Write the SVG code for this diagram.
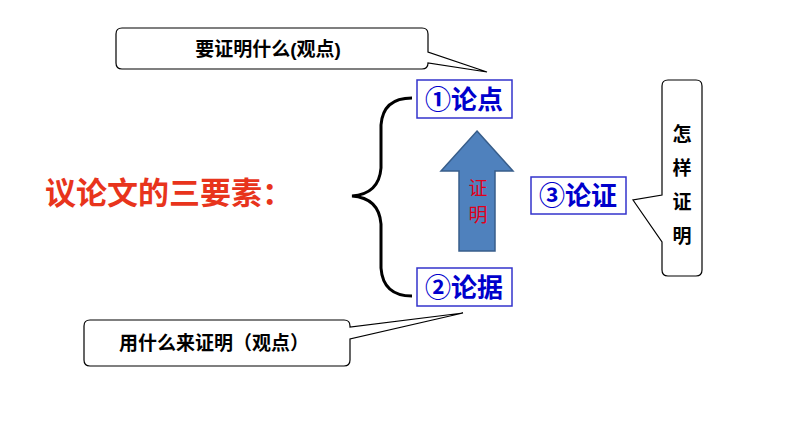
<svg xmlns="http://www.w3.org/2000/svg" width="794" height="447" viewBox="0 0 794 447">
<style>
.cl{fill:#fff;stroke:#000;stroke-width:1.2}
.bx{fill:#fff;stroke:#3333cc;stroke-width:1.5}
.bt{font-family:"Liberation Sans","Noto Sans CJK SC",sans-serif;font-size:26px;fill:#0000cc;font-weight:bold}
.ct{font-family:"Liberation Sans","Noto Sans CJK SC",sans-serif;font-size:19px;fill:#000;font-weight:bold}
</style>
<rect width="794" height="447" fill="#fff"/>
<g id="callout-top">
<path class="cl" d="M122,28 H422 Q428,28 428,34 V52 L487,72 L428,63 V63 Q428,69 422,69 H122 Q116,69 116,63 V34 Q116,28 122,28 Z"/>
<text class="ct" x="268" y="56" text-anchor="middle">要证明什么(观点)</text>
</g>
<g id="callout-bottom">
<path class="cl" d="M90,320 H344 Q350,320 350,326 V327 L463,313 L350,339 V360 Q350,366 344,366 H90 Q84,366 84,360 V326 Q84,320 90,320 Z"/>
<text class="ct" x="214" y="350" text-anchor="middle">用什么来证明（观点）</text>
</g>
<g id="callout-right">
<path class="cl" d="M668,80 H696 Q702,80 702,86 V270 Q702,276 696,276 H668 Q662,276 662,270 V242 L633,200 L662,195 V86 Q662,80 668,80 Z"/>
<text class="ct" x="682" y="141" text-anchor="middle" font-size="22">怎</text>
<text class="ct" x="682" y="175" text-anchor="middle" font-size="22">样</text>
<text class="ct" x="682" y="209" text-anchor="middle" font-size="22">证</text>
<text class="ct" x="682" y="243" text-anchor="middle" font-size="22">明</text>
</g>
<g id="title">
<text x="45" y="204" font-family="Liberation Sans,'Noto Sans CJK SC',sans-serif" font-size="31" font-weight="bold" fill="#e8341c">议论文的三要素：</text>
</g>
<g id="brace">
<path d="M412,98 Q383,98 381,125 V168 Q379,194 352,196 Q379,198 381,224 V268 Q383,296 412,296" fill="none" stroke="#000" stroke-width="3"/>
</g>
<g id="node1">
<rect class="bx" x="417" y="80" width="95" height="38"/>
<text class="bt" x="464" y="109" text-anchor="middle">①论点</text>
</g>
<g id="node2">
<rect class="bx" x="417" y="268" width="95" height="38"/>
<text class="bt" x="464" y="297" text-anchor="middle">②论据</text>
</g>
<g id="node3">
<rect class="bx" x="531" y="177" width="95" height="37"/>
<text class="bt" x="578" y="205" text-anchor="middle">③论证</text>
</g>
<g id="connectors">
<path d="M477,131 L513,171 H495 V251 H459 V171 H441 Z" fill="#4f81bd" stroke="#385d8a" stroke-width="1.5"/>
<text x="478" y="195" text-anchor="middle" font-family="Liberation Sans,'Noto Sans CJK SC',sans-serif" font-size="19" fill="#e0001b">证</text>
<text x="478" y="222" text-anchor="middle" font-family="Liberation Sans,'Noto Sans CJK SC',sans-serif" font-size="19" fill="#e0001b">明</text>
</g>
</svg>
